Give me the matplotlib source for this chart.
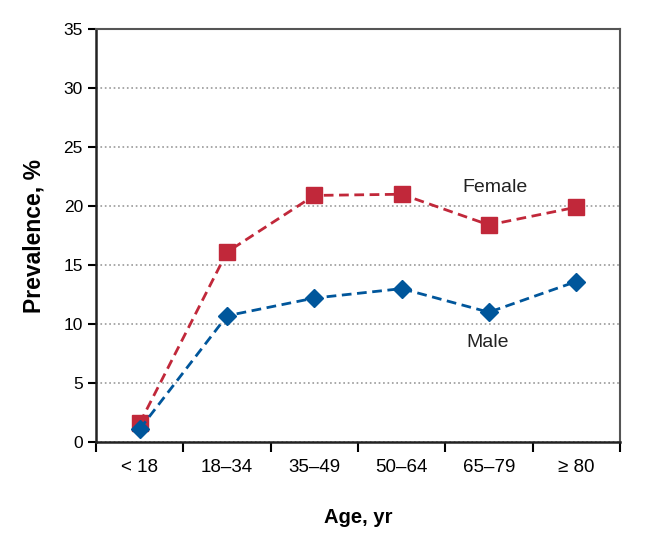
import matplotlib.pyplot as plt
from matplotlib.ticker import FixedLocator, NullFormatter

plt.rcParams['font.family'] = ['Liberation Sans', 'DejaVu Sans']

age_groups = ['< 18', '18–34', '35–49', '50–64', '65–79', '≥ 80']
female = [1.6, 16.1, 20.9, 21.0, 18.4, 19.9]
male = [1.1, 10.7, 12.2, 13.0, 11.0, 13.6]

red = '#c1283a'
blue = '#00569b'

fig = plt.figure(figsize=(6.45, 5.55), dpi=100)
ax = fig.add_axes([0.149, 0.2036, 0.812, 0.744])

x = list(range(len(age_groups)))
ax.plot(x, female, color=red, linestyle='--', dashes=(3.5, 2), linewidth=2,
        marker='s', markersize=11, zorder=3)
ax.plot(x, male, color=blue, linestyle='--', dashes=(3.5, 2), linewidth=2,
        marker='D', markersize=9, zorder=3)

ax.text(4.07, 21.6, 'Female', fontsize=14, ha='center', va='center', color='#222')
ax.text(3.98, 8.4, 'Male', fontsize=14, ha='center', va='center', color='#222')

ax.set_xlim(-0.5, len(age_groups) - 0.5)
ax.set_ylim(0, 35)
ax.set_yticks(range(0, 36, 5))

# ticks at the category borders, labels in the middle
ax.xaxis.set_major_locator(FixedLocator([i - 0.5 for i in range(len(age_groups) + 1)]))
ax.xaxis.set_major_formatter(NullFormatter())
ax.xaxis.set_minor_locator(FixedLocator(x))
ax.set_xticklabels(age_groups, minor=True)
ax.tick_params(axis='x', which='minor', length=0, pad=12, labelsize=13.5)
ax.tick_params(axis='x', which='major', length=7, width=1.5, direction='out')
ax.tick_params(axis='y', length=6, width=1.5, direction='out', labelsize=12.5)

ax.grid(axis='y', linestyle=':', color='#999999', linewidth=1.2)
ax.set_axisbelow(True)
for side in ['left', 'bottom']:
    ax.spines[side].set_linewidth(1.8)
    ax.spines[side].set_color('#222')
for side in ['top', 'right']:
    ax.spines[side].set_linewidth(1.5)
    ax.spines[side].set_color('#555')

ax.set_xlabel('Age, yr', fontsize=14.5, fontweight='bold', labelpad=23)
ax.set_ylabel('Prevalence, %', fontsize=16.5, fontweight='bold', labelpad=13)

plt.savefig('out.png', dpi=100)
